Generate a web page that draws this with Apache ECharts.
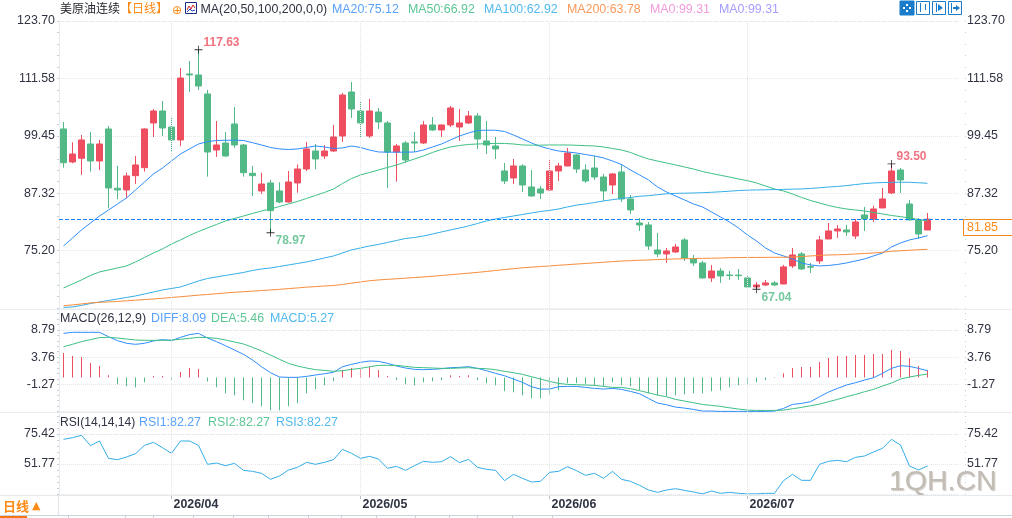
<!DOCTYPE html>
<html>
<head>
<meta charset="utf-8">
<title>美原油连续 日线</title>
<style>html,body{margin:0;padding:0;background:#fff}#chart{width:1012px;height:518px}</style>
<script src="https://cdn.jsdelivr.net/npm/echarts@6/dist/echarts.min.js"></script>
</head>
<body>
<div id="chart"></div>
<script>
// Trading sessions shown on the daily chart
const tradeDays = [
  '03-16','03-17','03-18','03-19','03-20','03-23','03-24','03-25','03-26','03-27','03-30','03-31',
  '04-01','04-02','04-06','04-07','04-08','04-09','04-10','04-13','04-14','04-15','04-16','04-17','04-20','04-21','04-22','04-23','04-24','04-27','04-28','04-29','04-30',
  '05-01','05-04','05-05','05-06','05-07','05-08','05-11','05-12','05-13','05-14','05-15','05-18','05-19','05-20','05-21','05-22','05-25','05-26','05-27','05-28','05-29',
  '06-01','06-02','06-03','06-04','06-05','06-08','06-09','06-10','06-11','06-12','06-15','06-16','06-17','06-18','06-19','06-22','06-23','06-24','06-25','06-26','06-29','06-30',
  '07-01','07-02','07-03','07-06','07-07','07-08','07-09','07-10','07-13','07-14','07-15','07-16','07-17','07-20','07-21','07-22','07-23','07-24','07-27','07-28','07-29'
];
const emptySlots = ['+1','+2','+3'];
const monthStarts = {'04-01':'2026/04','05-01':'2026/05','06-01':'2026/06','07-01':'2026/07'};

// Daily bars: open, close, low, high
const ohlc = [
  [100.89,93.77,92.72,102.37],[93.92,95.61,93.65,98.08],[94.70,98.57,91.18,99.62],[97.72,94.13,91.87,100.26],
  [94.13,97.72,92.23,98.57],[100.89,88.43,84.14,101.52],[88.37,88.01,86.04,93.14],[88.01,90.97,86.25,91.66],
  [91.03,93.29,89.27,95.19],[92.72,100.89,91.87,101.04],[102.16,104.69,99.20,105.11],[104.69,101.10,99.41,106.80],
  [101.31,98.57,96.24,103.21],[98.57,111.66,97.30,113.77],[112.51,112.30,108.70,115.25],[112.30,109.97,109.13,117.63],
  [108.28,96.03,90.82,109.13],[96.45,97.51,94.98,102.58],[97.93,95.19,95.00,100.26],[101.95,97.51,96.88,105.54],
  [97.51,91.66,90.82,97.72],[91.53,91.03,86.74,93.08],[87.80,89.27,87.16,91.66],[89.49,83.64,78.97,90.12],
  [87.80,85.47,85.20,89.63],[85.47,89.70,85.32,92.02],[89.49,92.44,87.44,93.40],[92.44,96.67,92.02,98.15],
  [96.24,94.55,92.38,97.72],[95.19,96.24,94.55,97.51],[96.24,99.20,96.03,101.74],[99.41,108.07,98.15,108.49],
  [108.70,105.11,103.21,110.82],[104.69,102.16,99.20,106.59],[99.41,104.69,98.99,107.23],[104.48,102.37,100.89,105.33],
  [102.16,96.03,88.43,102.58],[96.03,97.30,89.76,97.72],[97.93,94.34,93.71,98.36],[98.15,97.93,96.03,100.26],
  [97.93,101.74,97.72,102.58],[101.74,100.68,100.47,103.42],[100.68,101.74,99.20,101.80],[101.74,105.33,101.31,105.75],
  [101.31,102.16,98.36,105.11],[102.16,103.64,101.95,104.69],[103.64,98.78,96.67,104.27],[98.36,97.51,95.61,102.58],
  [97.30,96.67,94.55,99.20],[92.02,89.91,89.27,93.71],[90.54,93.08,89.27,94.55],[93.08,89.06,87.58,93.45],
  [88.64,86.74,86.60,92.23],[88.22,87.37,86.11,88.85],[88.01,92.02,87.90,94.55],[92.02,93.08,89.91,93.71],
  [93.08,95.82,93.00,96.88],[95.40,92.44,91.60,95.61],[92.23,89.91,89.49,93.45],[92.65,90.75,90.12,95.19],
  [90.75,87.80,85.68,91.39],[89.06,91.39,87.16,91.60],[91.81,86.11,85.47,93.45],[86.11,83.78,82.94,86.95],
  [81.04,80.62,79.35,82.09],[80.62,76.18,75.34,81.25],[75.34,74.49,73.86,78.93],[74.49,75.12,72.59,75.76],
  [74.91,75.97,74.70,76.60],[77.45,73.65,73.01,77.87],[73.44,72.59,71.96,74.28],[72.59,69.42,69.30,73.01],
  [69.42,70.90,68.58,72.17],[70.90,69.84,68.37,71.53],[70.05,69.93,69.00,70.90],[70.02,69.90,69.00,71.32],
  [69.42,67.52,67.45,69.84],[67.52,67.94,67.04,68.58],[67.94,68.37,67.73,69.00],[68.37,67.94,67.73,68.79],
  [68.15,71.75,68.10,72.17],[71.96,74.28,71.53,75.76],[74.49,71.32,71.11,74.91],[71.81,71.69,70.48,72.59],
  [73.01,77.45,72.38,78.29],[77.66,79.35,77.60,81.04],[79.35,79.77,77.87,80.62],[79.56,79.14,78.29,80.62],
  [78.29,81.25,77.66,81.88],[82.73,81.88,79.35,84.42],[81.88,83.99,81.25,84.63],[84.21,86.11,84.15,88.43],
  [87.37,92.02,87.16,93.50],[92.23,90.12,87.37,92.65],[85.05,81.67,81.60,85.90],[81.67,78.71,77.66,82.09],
  [79.56,81.85,79.50,83.15]
];

const ma20 = [76.18,77.87,79.56,81.04,82.51,83.78,85.05,86.32,88.01,89.70,91.39,92.65,94.13,95.61,96.67,97.72,98.21,98.46,98.50,98.53,98.46,98.00,97.51,96.98,96.67,96.56,96.67,96.98,97.30,97.09,96.77,96.88,97.30,96.98,96.45,96.03,95.99,95.99,95.99,96.03,96.45,97.09,97.72,98.57,99.41,100.05,100.57,100.64,100.62,100.36,99.62,98.78,97.93,97.20,96.67,96.24,96.03,95.82,95.50,95.19,94.77,94.13,93.39,92.23,91.18,90.12,88.64,87.58,86.74,85.90,85.05,84.42,83.36,82.30,81.25,79.98,78.50,77.24,75.76,74.70,74.07,73.44,72.59,72.17,71.96,72.06,72.27,72.59,73.01,73.44,74.07,74.70,75.97,76.81,77.45,77.87,78.35];
const ma50 = [67.31,68.15,69.00,69.95,70.69,71.11,71.53,71.96,72.80,73.75,74.70,75.55,76.60,77.45,78.40,79.24,79.98,80.72,81.46,81.99,82.51,83.04,83.57,83.99,84.52,85.05,85.58,86.21,86.84,87.48,88.22,89.38,90.43,91.18,91.70,92.23,92.76,93.29,93.92,94.55,95.19,95.93,96.56,97.09,97.40,97.62,97.72,97.79,97.85,97.83,97.72,97.51,97.47,97.47,97.51,97.51,97.51,97.45,97.36,97.30,97.09,96.77,96.45,95.93,95.19,94.55,94.13,93.71,93.29,92.86,92.44,91.91,91.49,91.11,90.75,90.33,89.97,89.49,88.85,88.22,87.80,87.16,86.42,85.79,85.26,84.73,84.31,83.99,83.78,83.57,83.25,82.94,82.62,82.37,82.09,81.78,81.46];
const ma100 = [63.20,63.30,63.61,64.03,64.35,64.67,64.98,65.30,65.62,66.04,66.46,66.89,67.20,67.52,68.15,68.79,69.31,69.63,69.95,70.27,70.58,71.00,71.32,71.53,71.85,72.17,72.48,72.80,73.22,73.65,74.07,74.70,75.34,75.76,76.18,76.50,76.92,77.34,77.76,77.97,78.29,78.71,79.14,79.56,79.98,80.40,80.93,81.46,81.88,82.20,82.51,82.83,83.15,83.47,83.68,83.99,84.42,84.80,85.05,85.37,85.68,85.96,86.21,86.42,86.68,86.80,87.01,87.20,87.29,87.33,87.37,87.43,87.52,87.63,87.75,87.88,87.98,88.01,88.05,88.09,88.13,88.18,88.22,88.32,88.47,88.64,88.75,88.93,89.15,89.36,89.49,89.57,89.61,89.65,89.63,89.53,89.42];
const ma200 = [63.57,63.72,63.93,64.14,64.29,64.35,64.46,64.60,64.73,64.86,64.98,65.13,65.30,65.45,65.62,65.79,65.93,66.10,66.25,66.40,66.51,66.63,66.76,66.89,67.01,67.18,67.31,67.48,67.60,67.73,67.82,68.05,68.32,68.58,68.83,69.00,69.13,69.25,69.38,69.51,69.63,69.78,69.95,70.10,70.27,70.43,70.60,70.79,71.00,71.19,71.38,71.57,71.70,71.83,71.96,72.10,72.23,72.36,72.48,72.61,72.74,72.86,72.99,73.07,73.16,73.22,73.31,73.37,73.43,73.48,73.52,73.56,73.60,73.64,73.71,73.73,73.75,73.75,73.77,73.79,73.79,73.86,73.94,74.07,74.17,74.28,74.32,74.38,74.49,74.60,74.70,74.85,75.06,75.17,75.27,75.38,75.48];

const macdBars = [4.51,3.96,3.77,2.66,2.10,0.43,-1.24,-1.61,-1.79,-0.87,0.25,0.25,-0.49,0.99,1.73,1.55,-0.74,-1.79,-2.90,-3.28,-4.20,-4.76,-5.31,-6.06,-6.06,-5.31,-4.76,-2.90,-2.16,-1.42,-0.68,1.36,1.73,1.73,1.92,1.36,0.25,-0.49,-1.24,-1.42,-0.87,-0.68,-0.49,0.43,0.25,0.43,-0.49,-1.05,-1.42,-2.53,-2.72,-3.28,-3.83,-3.83,-3.09,-2.35,-1.05,-1.05,-1.24,-1.42,-1.61,-0.87,-1.42,-1.61,-2.35,-2.90,-3.28,-3.46,-3.28,-3.09,-2.90,-2.90,-2.53,-2.35,-1.79,-1.42,-1.24,-0.87,-0.49,-0.12,0.80,1.73,1.92,1.92,2.84,3.58,3.96,3.96,4.14,4.14,4.33,4.33,5.07,4.88,3.58,2.10,1.36];
const diff = [8.17,8.35,8.35,8.35,8.35,7.55,6.81,6.32,6.13,6.32,6.75,7.00,6.81,7.43,7.92,8.17,7.30,6.63,5.88,5.08,4.28,3.23,1.99,0.88,0.08,0.02,0.02,0.20,0.45,0.69,0.94,1.99,2.42,2.80,3.04,2.98,2.61,2.12,1.75,1.50,1.44,1.50,1.62,1.81,1.87,1.99,1.68,1.25,0.76,0.32,-0.29,-0.91,-1.71,-2.15,-2.15,-1.71,-1.65,-1.65,-1.84,-2.02,-2.15,-2.02,-2.21,-2.58,-3.01,-3.88,-4.74,-5.05,-5.48,-5.67,-5.91,-6.22,-6.22,-6.28,-6.28,-6.28,-6.28,-6.28,-6.28,-6.22,-5.73,-4.99,-4.80,-4.49,-3.57,-2.70,-2.02,-1.40,-0.97,-0.48,-0.05,0.76,1.68,2.18,2.05,1.68,1.25];
const dea = [5.70,6.13,6.63,7.00,7.37,7.43,7.30,7.12,6.93,6.87,6.87,6.87,6.93,7.06,7.24,7.43,7.37,7.24,6.93,6.56,6.19,5.58,4.90,4.15,3.35,2.61,2.12,1.75,1.44,1.31,1.13,1.25,1.50,1.68,1.99,2.24,2.24,2.24,2.05,1.87,1.81,1.75,1.68,1.68,1.75,1.81,1.68,1.62,1.44,1.13,0.88,0.57,0.14,-0.29,-0.73,-1.10,-1.28,-1.34,-1.40,-1.47,-1.65,-1.84,-1.84,-2.08,-2.45,-2.83,-3.26,-3.57,-4.06,-4.37,-4.68,-4.99,-5.17,-5.36,-5.61,-5.85,-6.04,-6.10,-6.10,-6.10,-6.04,-5.79,-5.54,-5.23,-4.93,-4.49,-4.06,-3.57,-3.14,-2.64,-2.21,-1.59,-1.03,-0.29,0.08,0.39,0.63];
const rsi = [71.21,72.53,74.37,66.22,69.90,56.23,55.18,57.28,59.91,66.48,68.85,64.64,60.18,69.90,69.90,66.48,51.50,52.55,50.45,52.29,46.77,45.98,44.41,39.68,42.31,47.04,49.14,53.08,51.50,53.08,55.18,63.33,60.18,56.23,57.81,55.71,48.35,49.93,46.77,50.45,53.87,53.08,53.61,57.55,52.82,55.45,49.14,47.56,46.77,38.63,43.62,40.47,37.58,38.10,45.20,45.98,49.66,46.51,42.83,44.41,40.47,45.98,39.68,38.10,34.95,31.27,29.43,31.27,32.32,31.00,29.69,28.20,30.48,28.64,29.43,28.64,28.20,28.20,28.64,28.64,38.63,43.62,38.89,38.89,51.50,53.87,54.66,53.61,57.02,58.07,61.23,64.12,71.21,66.75,50.19,47.04,50.19];

// Session extremes flagged on the price pane
const extremeDays = ['04-07','04-17','07-02','07-23'];
const extremeValues = [117.63,78.97,67.04,93.50];

// Scale labels for each pane
const priceTicks = [75.20,87.32,99.45,111.58,123.70];
const macdTicks = [-1.27,3.76,8.79];
const rsiTicks = [51.77,75.42];

const UP = '#ee4e60', DOWN = '#52b986';
const FONT = '"Liberation Sans","Noto Sans CJK SC",sans-serif';
const TXT = '#2f3342';
const C_MA20 = '#2e8dfb', C_MA50 = '#3dbf84', C_MA100 = '#34ade8', C_MA200 = '#f98c3a', C_ORANGE = '#ff8a14';

const lastClose = ohlc[ohlc.length - 1][1];
const axisCats = tradeDays.concat(emptySlots);
const dotted = {show: true, lineStyle: {type: 'dotted', color: '#e6e6e6', width: 1}};
const closest = ticks => v => {
  const hit = ticks.find(t => Math.abs(t - v) < 0.012);
  return hit === undefined ? '' : hit.toFixed(2);
};
const valueAxis = (gridIndex, min, max, interval, ticks, side) => ({
  type: 'value', gridIndex, min, max, interval, position: side,
  offset: side === 'right' ? 6 : 0,
  axisLine: {show: side === 'left', lineStyle: {color: '#e9edf1'}},
  axisTick: {show: true, length: side === 'left' ? 2 : 1, lineStyle: {color: '#c9ced4'}},
  minorTick: {show: true, splitNumber: 5, length: side === 'left' ? 2 : 1, lineStyle: {color: '#c9ced4'}},
  minorSplitLine: {show: false},
  splitLine: side === 'left' ? dotted : {show: false},
  axisLabel: {
    show: true, color: TXT, fontFamily: FONT, fontSize: 12.4, margin: side === 'left' ? 4 : 2,
    padding: [4, 0, 0, 0], formatter: closest(ticks)
  }
});
const categoryAxis = (gridIndex, showLabels) => ({
  type: 'category', gridIndex, data: axisCats, boundaryGap: true, offset: showLabels ? 1 : 0,
  axisLine: {show: showLabels, lineStyle: {color: '#e9edf1'}},
  axisTick: {show: showLabels, alignWithLabel: true, length: 4, interval: (i, v) => v in monthStarts, lineStyle: {color: '#b9bec5'}},
  splitLine: {show: false},
  axisLabel: {
    show: showLabels, color: TXT, fontFamily: FONT, fontSize: 12.4, fontWeight: 'bold', align: 'left', margin: 3,
    padding: [0, 0, 0, 2],
    interval: (i, v) => v in monthStarts, formatter: v => monthStarts[v] || ''
  }
});
// Month separators plus the dashed guide on the pane's top scale value
const paneGuides = (topValue, extraLines) => ({
  silent: true, symbol: 'none', animation: false, label: {show: false},
  lineStyle: {type: 'dotted', color: '#e4e4e4', width: 1},
  data: Object.keys(monthStarts).map(d => ({xAxis: d}))
    .concat([{yAxis: topValue, lineStyle: {type: 'dashed', color: '#ececec', width: 1}}])
    .concat(extraLines || [])
});
const lineSeries = (name, data, color, xAxisIndex, yAxisIndex, extra) => Object.assign({
  name, type: 'line', data, xAxisIndex, yAxisIndex, symbol: 'none', smooth: false, silent: true,
  lineStyle: {width: 1, color}, itemStyle: {color}, z: 4
}, extra || {});

const chart = echarts.init(document.getElementById('chart'), null, {renderer: 'canvas'});
const option = {
  animation: false,
  backgroundColor: '#fff',
  textStyle: {fontFamily: FONT},
  grid: [
    {left: 59, width: 900, top: 21, height: 287},
    {left: 59, width: 900, top: 309, height: 102.5},
    {left: 59, width: 900, top: 412, height: 82}
  ],
  xAxis: [categoryAxis(0, false), categoryAxis(1, false), categoryAxis(2, true)],
  yAxis: [
    valueAxis(0, 63.075, 123.7, 12.125, priceTicks, 'left'),
    valueAxis(1, -6.3, 12.67, 5.03, macdTicks, 'left'),
    valueAxis(2, 28.12, 92.76, 23.65, rsiTicks, 'left'),
    valueAxis(0, 63.075, 123.7, 12.125, priceTicks, 'right'),
    valueAxis(1, -6.3, 12.67, 5.03, macdTicks, 'right'),
    valueAxis(2, 28.12, 92.76, 23.65, rsiTicks, 'right')
  ],
  series: [
    {
      name: '美原油连续', type: 'candlestick', data: ohlc, xAxisIndex: 0, yAxisIndex: 0, barWidth: 6, z: 3, silent: true,
      itemStyle: {color: UP, color0: DOWN, borderColor: UP, borderColor0: DOWN, borderWidth: 1},
      markLine: Object.assign(paneGuides(priceTicks[4]), {z: 8})
    },
    lineSeries('MA20', ma20, C_MA20, 0, 0),
    lineSeries('MA50', ma50, C_MA50, 0, 0),
    lineSeries('MA100', ma100, C_MA100, 0, 0),
    lineSeries('MA200', ma200, C_MA200, 0, 0),
    {
      name: 'extremes', type: 'scatter', xAxisIndex: 0, yAxisIndex: 0, z: 6, silent: true,
      symbol: 'path://M0 4.5H10V5.5H0ZM4.5 0H5.5V10H4.5Z', symbolSize: 8,
      itemStyle: {color: '#000'},
      data: extremeDays.map((d, k) => {
        const i = tradeDays.indexOf(d);
        const above = extremeValues[k] === ohlc[i][3];
        return {
          value: [d, extremeValues[k]],
          label: {
            show: true, position: 'right', distance: 1, offset: [0, above ? -7 : 8],
            formatter: extremeValues[k].toFixed(2), color: above ? UP : DOWN,
            fontFamily: FONT, fontWeight: 'bold', fontSize: 12
          }
        };
      })
    },
    {
      name: 'MACD', type: 'bar', data: macdBars, xAxisIndex: 1, yAxisIndex: 1, barWidth: 1, z: 2, silent: true,
      itemStyle: {color: p => (p.value >= 0 ? UP : DOWN)},
      markLine: paneGuides(macdTicks[2])
    },
    lineSeries('DIFF', diff, C_MA20, 1, 1),
    lineSeries('DEA', dea, C_MA50, 1, 1),
    lineSeries('RSI', rsi, C_MA100, 2, 2, {markLine: paneGuides(rsiTicks[1])})
  ]
};
chart.setOption(option);

// Overlay drawing: headers, toolbar, pane separators, last-price guide and tag
const text = (x, y, t, fill, extra) => ({
  type: 'text', silent: true, z: 20,
  style: Object.assign({x, y, text: t, fill, font: '12.4px ' + FONT, align: 'left', verticalAlign: 'middle'}, extra || {})
});
const hline = (x1, x2, y, stroke, extra) => ({
  type: 'line', silent: true, z: 1,
  shape: {x1, y1: y, x2, y2: y},
  style: Object.assign({stroke, lineWidth: 1}, extra || {})
});
const vline = (x, y1, y2, stroke) => ({
  type: 'line', silent: true, z: 20, shape: {x1: x, y1, x2: x, y2}, style: {stroke, lineWidth: 1}
});
const box = (x, y, w, h, fill, stroke) => ({
  type: 'rect', silent: true, z: 20, shape: {x, y, width: w, height: h}, style: {fill, stroke, lineWidth: 1}
});

const lastY = Math.round(chart.convertToPixel({yAxisIndex: 0}, lastClose)) + 0.5;
const BLUE = '#1a7ccb';

// The guide is laid out as short solid segments so each dash lands on whole pixels
const dashes = [];
for (let x = 59; x < 963; x += 6) {
  dashes.push({
    type: 'rect', silent: true, z: 10,
    shape: {x, y: lastY - 0.5, width: 4, height: 1},
    style: {fill: '#0a84ff'}
  });
}

const overlay = [
  hline(0, 1012, 309.5, '#e8edf1'),
  hline(0, 1012, 412.5, '#e8edf1'),
  hline(0, 1012, 495.5, '#e4e9ee'),
  hline(0, 1012, 515.5, '#ccd3da'),
  vline(58.5, 495, 515, '#dfe4e9'),

  // quote header
  text(60, 10, '美原油连续', '#26262e', {font: '12px ' + FONT}),
  text(120, 10, '【日线】', C_ORANGE, {font: '12px ' + FONT}),
  text(172, 11, '⊕', C_ORANGE, {font: '12px "DejaVu Sans"'}),
  box(185.5, 2.5, 11, 11, '#fff', '#1a2a80'),
  {type: 'polyline', silent: true, z: 21, shape: {points: [[187, 10], [189, 6], [191, 9], [193, 5], [195, 8]]}, style: {stroke: '#d8232a', fill: 'none', lineWidth: 1}},
  {type: 'polyline', silent: true, z: 21, shape: {points: [[187, 12], [190, 9], [192, 11], [195, 10]]}, style: {stroke: '#2040c0', fill: 'none', lineWidth: 1}},
  text(200.5, 10, 'MA(20,50,100,200,0,0)', '#2f3342'),
  text(332, 10, 'MA20:75.12', '#5aa2fb'),
  text(408, 10, 'MA50:66.92', '#5cc795'),
  text(484, 10, 'MA100:62.92', '#52b9ee'),
  text(567, 10, 'MA200:63.78', '#fa9a5c'),
  text(650, 10, 'MA0:99.31', '#f29bdc'),
  text(719, 10, 'MA0:99.31', '#a69dff'),

  // indicator headers
  text(60, 318.5, 'MACD(26,12,9)', '#2f3342'),
  text(151, 318.5, 'DIFF:8.09', '#5aa2fb'),
  text(211, 318.5, 'DEA:5.46', '#5cc795'),
  text(270, 318.5, 'MACD:5.27', '#52b9ee'),
  text(60, 422.5, 'RSI(14,14,14)', '#2f3342', {font: '12.1px ' + FONT}),
  text(139, 422.5, 'RSI1:82.27', '#5aa2fb'),
  text(208, 422.5, 'RSI2:82.27', '#5cc795'),
  text(276, 422.5, 'RSI3:82.27', '#52b9ee'),

  // period selector
  text(3, 506, '日线', C_ORANGE, {font: 'bold 13px "Noto Sans CJK SC"'}),
  text(32, 506, '▲', C_ORANGE, {font: '11px "DejaVu Sans"'}),

  // toolbar: crosshair button, then range and step buttons
  box(900, 1, 14, 14, BLUE, BLUE),
  box(906, 4, 2, 2, '#fff', null), box(906, 10, 2, 2, '#fff', null),
  box(903, 7, 2, 2, '#fff', null), box(909, 7, 2, 2, '#fff', null),
  box(916.5, 1.5, 13, 13, '#fff', BLUE),
  vline(920.5, 3, 12, BLUE), vline(925.5, 4, 10, BLUE), hline(919, 928, 12.5, BLUE, {z: 21}),
  box(932.5, 1.5, 13, 13, '#fff', BLUE),
  vline(936.5, 3, 12, BLUE), hline(935, 944, 12.5, BLUE, {z: 21}),
  {type: 'polygon', silent: true, z: 21, shape: {points: [[938, 4], [943, 8], [938, 11]]}, style: {fill: BLUE}},
  box(948.5, 1.5, 13, 13, '#fff', BLUE),
  vline(951.5, 3, 13, BLUE),
  {type: 'polygon', silent: true, z: 21, shape: {points: [[953, 7], [956, 7], [956, 5], [960, 8], [956, 11], [956, 9], [953, 9]]}, style: {fill: BLUE}},

  // last price tag
  {type: 'rect', silent: true, z: 11, shape: {x: 963.5, y: lastY, width: 50, height: 16}, style: {fill: '#fff', stroke: '#f08a1d', lineWidth: 1}},
  text(967, lastY + 8.5, lastClose.toFixed(2), C_ORANGE),

  // tab bar strip along the bottom edge
  box(0, 516, 27, 2, '#f5741a', null)
].concat(
  [68, 125, 153, 193, 233, 268, 308, 341, 376, 415, 449, 477, 512, 552].map(x => vline(x + 0.5, 516, 518, '#c9ced4'))
).concat(dashes).concat([
  // site mark
  {
    type: 'text', silent: true, z: 0,
    style: {
      x: 889, y: 482.5, text: '1QH.CN', fill: '#c2bcb5', font: '28.5px "Liberation Sans"',
      align: 'left', verticalAlign: 'middle', textShadowColor: 'rgba(120,110,100,.35)', textShadowBlur: 1, textShadowOffsetX: 1, textShadowOffsetY: 1
    }
  }
]);
chart.setOption({graphic: overlay});
</script>
</body>
</html>
